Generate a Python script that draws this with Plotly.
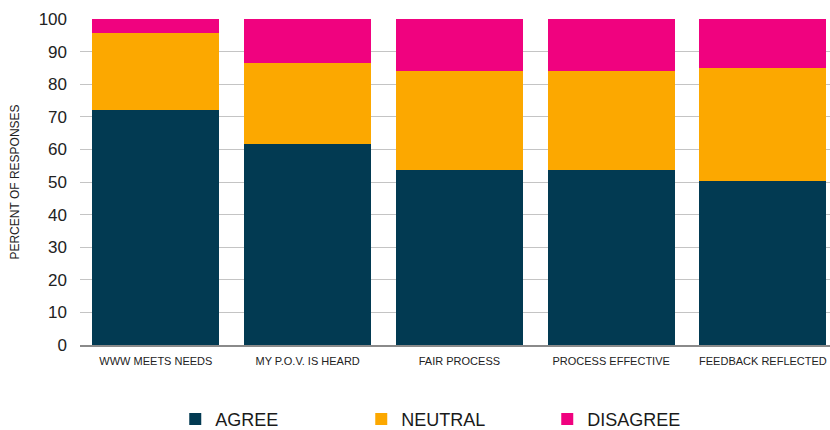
import plotly.graph_objects as go

categories = ["WWW MEETS NEEDS", "MY P.O.V. IS HEARD", "FAIR PROCESS",
              "PROCESS EFFECTIVE", "FEEDBACK REFLECTED"]
agree = [72.0, 61.6, 53.8, 53.8, 50.2]
neutral = [23.8, 25.0, 30.2, 30.2, 34.8]
disagree = [4.2, 13.4, 16.0, 16.0, 15.0]
y_ticks = [0, 10, 20, 30, 40, 50, 60, 70, 80, 90, 100]

FONT = "Liberation Sans Narrow, Arial Narrow, Liberation Sans, Arial, sans-serif"

series = [
    ("AGREE", agree, "#023a52"),
    ("NEUTRAL", neutral, "#fca800"),
    ("DISAGREE", disagree, "#f0027f"),
]

fig = go.Figure()
for name, vals, color in series:
    fig.add_trace(go.Bar(
        x=categories, y=vals, name=name,
        marker=dict(color=color, line=dict(width=0)),
    ))

fig.update_layout(
    width=830, height=430,
    barmode="stack", bargap=0.163,
    plot_bgcolor="white", paper_bgcolor="white",
    margin=dict(l=80, r=0, t=19, b=85, autoexpand=False),
    font=dict(family=FONT, color="#222"),
    legend=dict(
        orientation="h", x=0.499, xanchor="center", y=-0.228, yanchor="middle",
        font=dict(size=18, family=FONT, color="#1a1a1a"),
        entrywidth=141, entrywidthmode="pixels",
        itemsizing="constant", traceorder="normal",
    ),
    xaxis=dict(
        type="category", range=[-0.5, 4.442],
        showline=True, linecolor="#8a8a8a", linewidth=1.5,
        tickfont=dict(size=11, family=FONT, color="#222"),
        ticks="outside", ticklen=5, tickcolor="rgba(0,0,0,0)",
        showgrid=False,
    ),
    yaxis=dict(
        range=[0, 100], tickvals=y_ticks,
        showgrid=True, gridcolor="#c4c4c4", gridwidth=1,
        zeroline=False,
        tickfont=dict(size=17, family="Liberation Sans, Arial, sans-serif", color="#222"),
        ticklabelstandoff=12,
        title=dict(text="PERCENT OF RESPONSES", standoff=16,
                   font=dict(size=12, family=FONT, color="#222")),
    ),
)

fig.write_html("out.html")
